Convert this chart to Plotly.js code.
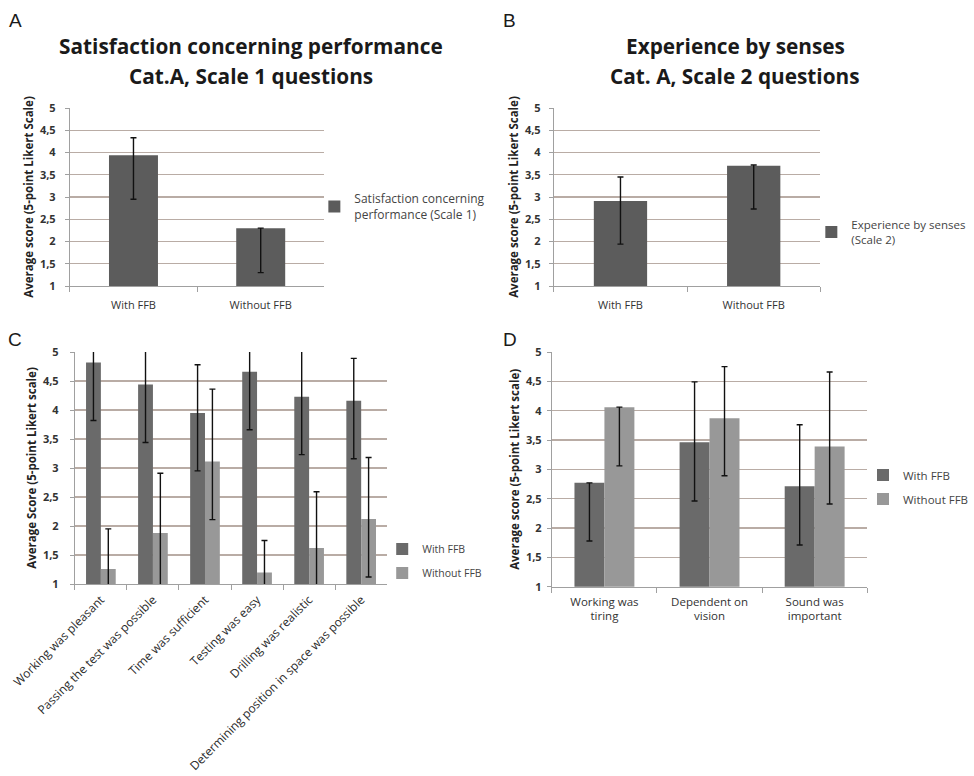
<!DOCTYPE html>
<html><head><meta charset="utf-8">
<script src="https://cdn.plot.ly/plotly-3.0.1.min.js"></script>
<style>html,body{margin:0;padding:0;background:#fff}#chart{width:974px;height:776px}</style>
</head><body><div id="chart"></div>
<script>
// ---------- data ----------
const groupsAB = ['With FFB', 'Without FFB'];
const scale1Values = [3.94, 2.30];
const scale1ErrPlus = [0.39, 0.0];
const scale1ErrMinus = [0.99, 1.0];
const scale2Values = [2.91, 3.70];
const scale2ErrPlus = [0.54, 0.02];
const scale2ErrMinus = [0.97, 0.97];

const questionsC = ['Working was pleasant', 'Passing the test was possible', 'Time was sufficient',
  'Testing was easy', 'Drilling was realistic', 'Determining position in space was possible'];
const withC = [4.82, 4.44, 3.95, 4.66, 4.23, 4.16];
const withC_plus = [1.0, 1.0, 0.83, 1.0, 1.0, 0.73];
const withC_minus = [1.0, 1.0, 1.0, 1.0, 1.0, 1.0];
const withoutC = [1.26, 1.88, 3.11, 1.20, 1.62, 2.12];
const withoutC_plus = [0.69, 1.03, 1.25, 0.55, 0.97, 1.06];
const withoutC_minus = [1.0, 1.0, 1.0, 1.0, 1.0, 1.0];

const questionsD = ['Working was<br>tiring', 'Dependent on<br>vision', 'Sound was<br>important'];
const withD = [2.77, 3.46, 2.71];
const withD_plus = [0.0, 1.03, 1.05];
const withD_minus = [0.99, 1.0, 1.0];
const withoutD = [4.06, 3.87, 3.39];
const withoutD_plus = [0.0, 0.88, 1.27];
const withoutD_minus = [1.0, 0.98, 0.98];

const yTickVals = [1, 1.5, 2, 2.5, 3, 3.5, 4, 4.5, 5];
const yTickText = ['1', '1,5', '2', '2,5', '3', '3,5', '4', '4,5', '5'];

// ---------- style ----------
const W = 974, H = 776;
const FONT = '"Open Sans", Lato, sans-serif';
const DARK = '#5c5c5c', MID = '#6a6a6a', LIGHT = '#989898';
const GRID = '#b9aca5', AXIS = '#a0a0a0';
const px = v => v / W, py = v => 1 - v / H;

function err(plus, minus) {
  return {type: 'data', symmetric: false, array: plus, arrayminus: minus,
          color: '#111', thickness: 1.4, width: 3};
}

const traces = [
  {type: 'bar', x: groupsAB, y: scale1Values, name: 'Satisfaction concerning<br>performance (Scale 1)',
   xaxis: 'x', yaxis: 'y', legend: 'legend', width: 0.385, marker: {color: DARK},
   error_y: err(scale1ErrPlus, scale1ErrMinus)},
  {type: 'bar', x: groupsAB, y: scale2Values, name: 'Experience by senses<br>(Scale 2)',
   xaxis: 'x2', yaxis: 'y2', legend: 'legend2', width: 0.40, marker: {color: DARK},
   error_y: err(scale2ErrPlus, scale2ErrMinus)},
  {type: 'bar', x: questionsC, y: withC, name: 'With FFB', legendgroup: 'c1',
   xaxis: 'x3', yaxis: 'y3', legend: 'legend3', marker: {color: MID},
   error_y: err(withC_plus, withC_minus)},
  {type: 'bar', x: questionsC, y: withoutC, name: 'Without FFB', legendgroup: 'c2',
   xaxis: 'x3', yaxis: 'y3', legend: 'legend3', marker: {color: LIGHT},
   error_y: err(withoutC_plus, withoutC_minus)},
  {type: 'bar', x: questionsD, y: withD, name: 'With FFB', legendgroup: 'd1',
   xaxis: 'x4', yaxis: 'y4', legend: 'legend4', marker: {color: MID},
   error_y: err(withD_plus, withD_minus)},
  {type: 'bar', x: questionsD, y: withoutD, name: 'Without FFB', legendgroup: 'd2',
   xaxis: 'x4', yaxis: 'y4', legend: 'legend4', marker: {color: LIGHT},
   error_y: err(withoutD_plus, withoutD_minus)}
];

function xax(x0, x1, anchor, extra) {
  return Object.assign({
    domain: [px(x0), px(x1)], anchor: anchor, type: 'category',
    showline: true, linecolor: AXIS, linewidth: 1,
    ticks: 'outside', tickson: 'boundaries', ticklen: 5, tickcolor: AXIS,
    ticklabelstandoff: 9,
    showgrid: false, zeroline: false, fixedrange: true,
    tickfont: {family: FONT, size: 11, color: '#333'}
  }, extra || {});
}
function yax(y0, y1, anchor, title, labelStandoff) {
  return {
    domain: [py(y1), py(y0)], anchor: anchor, range: [1, 5],
    tickvals: yTickVals, ticktext: yTickText,
    showline: true, linecolor: AXIS, linewidth: 1,
    ticks: 'outside', ticklen: 4, tickcolor: AXIS, ticklabelstandoff: labelStandoff,
    showgrid: true, gridcolor: GRID, gridwidth: 1.3, zeroline: false, fixedrange: true,
    tickfont: {family: FONT, size: 11, color: '#333', weight: 'bold'},
    title: {text: title, standoff: 3, font: {family: FONT, size: 11.5, color: '#222', weight: 'bold'}}
  };
}
function leg(x, y, size, gap) {
  return {x: px(x), y: py(y), xanchor: 'left', yanchor: 'middle', bgcolor: 'rgba(0,0,0,0)',
          borderwidth: 0, traceorder: 'grouped', tracegroupgap: gap || 0,
          font: {family: FONT, size: size, color: '#444'}};
}
function ann(text, x, y, size, bold, fam) {
  return {text: text, x: px(x), y: py(y), xref: 'paper', yref: 'paper', showarrow: false,
          xanchor: 'center', yanchor: 'middle',
          font: {family: fam || FONT, size: size, color: '#1a1a1a', weight: bold ? 'bold' : 'normal'}};
}

const layout = {
  width: W, height: H, margin: {l: 0, r: 0, t: 0, b: 0},
  paper_bgcolor: '#fff', plot_bgcolor: 'rgba(0,0,0,0)',
  barmode: 'group', bargap: 0.43, bargroupgap: 0,
  showlegend: true,
  xaxis: xax(70, 325, 'y'),
  yaxis: yax(108, 286, 'x', 'Average score (5-point Likert Scale)', 7),
  xaxis2: xax(555, 822, 'y2'),
  yaxis2: yax(108, 286, 'x2', 'Average score (5-point Likert Scale)', 6),
  xaxis3: xax(75, 388, 'y3', {tickangle: -45, ticklabelstandoff: 3,
    tickfont: {family: FONT, size: 12, color: '#2a2a2a'}}),
  yaxis3: yax(352, 584, 'x3', 'Average Score (5-point Likert scale)', 9),
  xaxis4: xax(553, 869, 'y4', {ticklabelstandoff: 4, tickfont: {family: FONT, size: 11.5, color: '#333'}}),
  yaxis4: yax(352, 586.7, 'x4', 'Average score (5-point Likert scale)', 3),
  legend: leg(315, 207, 12),
  legend2: leg(813, 232, 11.5),
  legend3: leg(383, 561, 10.5, 5),
  legend4: leg(865, 487, 11.5, 5),
  annotations: [
    ann('A', 16, 20, 19, false, 'Liberation Sans, Arial, sans-serif'),
    ann('B', 511, 20, 19, false, 'Liberation Sans, Arial, sans-serif'),
    ann('C', 15, 339, 19, false, 'Liberation Sans, Arial, sans-serif'),
    ann('D', 511, 339, 19, false, 'Liberation Sans, Arial, sans-serif'),
    ann('Satisfaction concerning performance', 252, 46, 20.8, true),
    ann('Cat.A, Scale 1 questions', 252, 76, 20.8, true),
    ann('Experience by senses', 737, 46, 20.8, true),
    ann('Cat. A, Scale 2 questions', 737, 76, 20.8, true)
  ]
};

Plotly.newPlot('chart', traces, layout, {staticPlot: true, displayModeBar: false});
</script>
</body></html>
